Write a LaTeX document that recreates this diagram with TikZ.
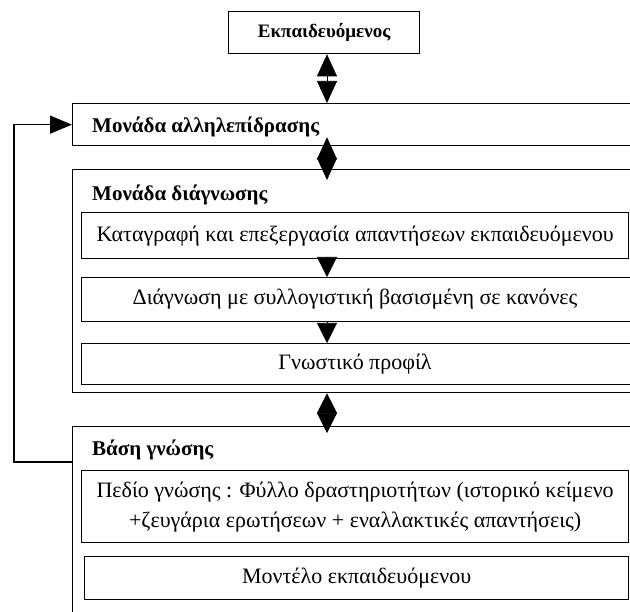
\documentclass[tikz,border=0pt]{standalone}
\usepackage{fontspec}
\setmainfont{Liberation Serif}
\usetikzlibrary{arrows.meta}
\begin{document}
\begin{tikzpicture}[x=1pt,y=-1pt,
  box/.style={draw, line width=1.3pt, rectangle, inner sep=0pt, anchor=north west},
  lbl/.style={font=\fontsize{21}{24}\selectfont\bfseries, anchor=west, inner sep=0pt},
  txt/.style={font=\fontsize{22}{30}\selectfont, align=center, inner sep=0pt},
  dbl/.style={{Triangle[length=22pt,width=20pt]}-{Triangle[length=22pt,width=20pt]}, line width=0.6pt},
  dbls/.style={{Triangle[length=20pt,width=20pt]}-{Triangle[length=20pt,width=20pt]}, line width=0.6pt},
  sgl/.style={-{Triangle[length=20pt,width=20pt]}, line width=0.6pt},
  fbk/.style={-{Triangle[length=22pt,width=18pt]}, line width=1.3pt}]
\clip (0,0) rectangle (630,612);
\fill[white] (0,0) rectangle (630,612);
% boxes
\node[box, minimum width=191pt, minimum height=42pt, font=\fontsize{19}{22}\selectfont\bfseries] (learner) at (228,11) {Εκπαιδευόμενος};
\node[box, minimum width=700pt, minimum height=42pt] (inter) at (72,103) {};
\node[lbl] (interlbl) at (92,127) {Μονάδα αλληλεπίδρασης};
\node[box, minimum width=700pt, minimum height=223pt] (diag) at (72,169) {};
\node[lbl] (diaglbl) at (92,195) {Μονάδα διάγνωσης};
\node[box, minimum width=547pt, minimum height=46pt, txt] (rec) at (81,212) {Καταγραφή και επεξεργασία απαντήσεων εκπαιδευόμενου};
\node[box, minimum width=700pt, minimum height=44pt] (dgn) at (81,277) {};
\node[txt] (dgntxt) at (355,299) {Διάγνωση με συλλογιστική βασισμένη σε κανόνες};
\node[box, minimum width=700pt, minimum height=41pt] (prof) at (81,343) {};
\node[txt] (proftxt) at (355,364) {Γνωστικό προφίλ};
\node[box, minimum width=700pt, minimum height=300pt] (kb) at (72,426) {};
\node[lbl] (kblbl) at (92,450) {Βάση γνώσης};
\node[box, minimum width=547pt, minimum height=72pt, txt] (dom) at (81,470) {Πεδίο γνώσης : Φύλλο δραστηριοτήτων (ιστορικό κείμενο\\+ζευγάρια ερωτήσεων + εναλλακτικές απαντήσεις)};
\node[box, minimum width=544pt, minimum height=43pt, txt] (model) at (84,556) {Μοντέλο εκπαιδευόμενου};
% connectors
\coordinate (ax) at (327,0);
\coordinate (fbx) at (14,0);
\draw[dbl] (learner.south -| ax) -- (inter.north -| ax);
\draw[dbl] ([yshift=9pt]inter.south -| ax) -- ([yshift=-11pt]diag.north -| ax);
\draw[sgl] (rec.south -| ax) -- (dgn.north -| ax);
\draw[sgl] (dgn.south -| ax) -- (prof.north -| ax);
\draw[dbls] (diag.south -| ax) -- ([yshift=-7pt]kb.north -| ax);
\draw[fbk] ([yshift=-36pt]kb.north west) -- ([yshift=-36pt]kb.north west -| fbx) -- (fbx |- inter.west) -- (inter.west);
\end{tikzpicture}
\end{document}
